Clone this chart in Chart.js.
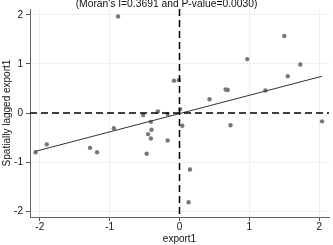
<!DOCTYPE html>
<html>
<head>
<meta charset="utf-8">
<script src="https://cdn.jsdelivr.net/npm/chart.js@4/dist/chart.umd.min.js"></script>
<style>
html,body{margin:0;padding:0;background:#fff;}
#wrap{width:333px;height:245px;}
</style>
</head>
<body>
<div id="wrap"><canvas id="c" width="333" height="245"></canvas></div>
<script>
// data
const exportX = [-0.88,-0.08,-0.01,-0.52,-0.31,-0.17,-0.94,-0.41,-0.45,-0.40,-0.41,-0.17,-0.47,-1.90,-2.06,-1.28,-1.18,
                 1.50,0.97,1.73,1.55,0.66,0.69,1.23,0.43,0.01,0.04,0.73,2.04,0.15,0.13];
const laggedY = [1.97,0.66,0.67,-0.04,0.03,-0.02,-0.31,-0.18,-0.43,-0.34,-0.52,-0.56,-0.83,-0.64,-0.80,-0.71,-0.80,
                 1.57,1.10,0.99,0.75,0.48,0.47,0.46,0.28,0.08,-0.26,-0.25,-0.17,-1.15,-1.82];
const fitX = [-2.06, 2.04];
const fitY = [-0.78, 0.75];
const xTicks = [-2,-1,0,1,2];
const yTicks = [-2,-1,0,1,2];
const titleText = "(Moran's I=0.3691 and P-value=0.0030)";
const xTitle = "export1";
const yTitle = "Spatially lagged export1";

const FONT = "'Liberation Sans', Arial, sans-serif";

const zeroLines = {
  id: 'zeroLines',
  afterDatasetsDraw(chart) {
    const {ctx, chartArea, scales} = chart;
    const x0 = scales.x.getPixelForValue(0);
    const y0 = scales.y.getPixelForValue(0);
    ctx.save();
    ctx.strokeStyle = '#000';
    ctx.lineWidth = 1.5;
    ctx.setLineDash([7,4]);
    ctx.beginPath();
    ctx.moveTo(chartArea.left, y0);
    ctx.lineTo(chartArea.right, y0);
    ctx.stroke();
    ctx.beginPath();
    ctx.moveTo(x0, chartArea.top);
    ctx.lineTo(x0, chartArea.bottom);
    ctx.stroke();
    ctx.restore();
  }
};

new Chart(document.getElementById('c'), {
  type: 'scatter',
  data: {
    datasets: [
      {
        type: 'line',
        data: fitX.map((x,i)=>({x, y: fitY[i]})),
        borderColor: '#333',
        borderWidth: 1,
        pointRadius: 0,
        fill: false
      },
      {
        data: exportX.map((x,i)=>({x, y: laggedY[i]})),
        backgroundColor: '#777',
        borderWidth: 0,
        pointRadius: 2.2
      }
    ]
  },
  options: {
    responsive: false,
    devicePixelRatio: 1,
    animation: false,
    layout: {padding: 0},
    plugins: {
      legend: {display: false},
      tooltip: {enabled: false},
      title: {
        display: true,
        text: titleText,
        color: '#111',
        font: {family: FONT, size: 10.3, weight: 'normal', lineHeight: 0.88},
        padding: {top: 0, bottom: 0}
      }
    },
    scales: {
      x: {
        type: 'linear',
        min: -2.14, max: 2.14,
        afterFit(s){ s.height = 28; },
        afterBuildTicks(s){ s.ticks = xTicks.map(v=>({value:v})); },
        ticks: {color:'#111', font:{family:FONT,size:10}, padding:0, maxRotation:0},
        grid: {
          color: c => (c.tick && c.tick.value === 0) ? 'rgba(0,0,0,0)' : '#efefef',
          tickColor: '#555', tickLength: 4, lineWidth: 1
        },
        border: {display:true, color:'#666', width:1},
        title: {display:true, text:xTitle, color:'#111', font:{family:FONT,size:10}, padding:{top:0,bottom:0}}
      },
      y: {
        type: 'linear',
        min: -2.12, max: 2.12,
        afterFit(s){ s.width = 30; },
        afterBuildTicks(s){ s.ticks = yTicks.map(v=>({value:v})); },
        ticks: {color:'#111', font:{family:FONT,size:10}, padding:3},
        grid: {
          color: c => (c.tick && c.tick.value === 0) ? 'rgba(0,0,0,0)' : '#efefef',
          tickColor: '#555', tickLength: 4, lineWidth: 1
        },
        border: {display:true, color:'#666', width:1},
        title: {display:true, text:yTitle, color:'#111', font:{family:FONT,size:10}, padding:{top:1,bottom:0}}
      }
    }
  },
  plugins: [zeroLines]
});
</script>
</body>
</html>
